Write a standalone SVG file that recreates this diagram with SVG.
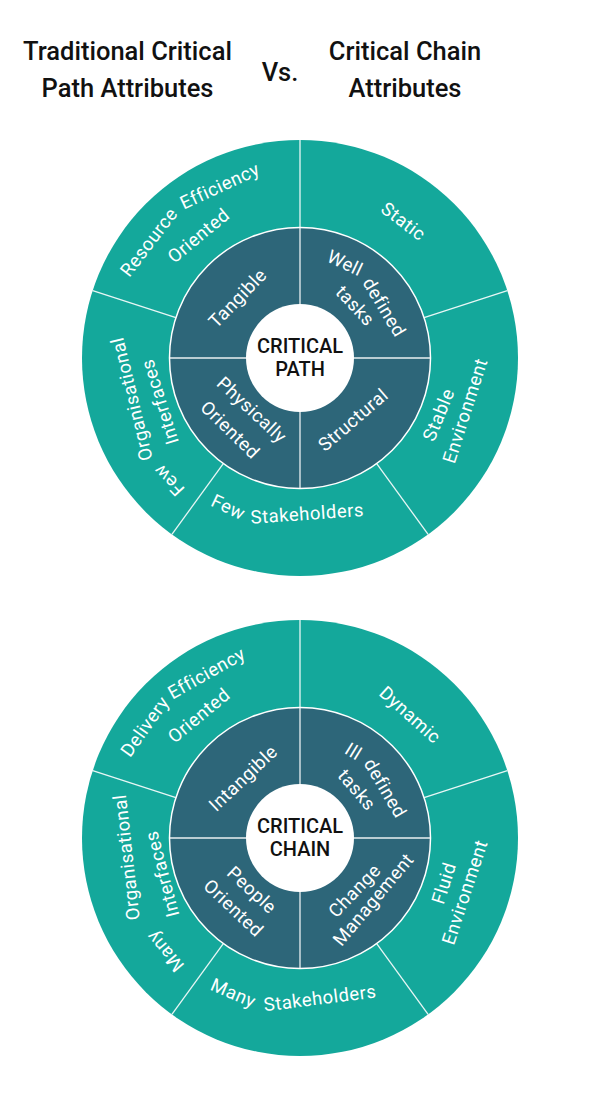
<svg xmlns="http://www.w3.org/2000/svg" width="600" height="1100" viewBox="0 0 600 1100">
<style>
.title{font-family:Roboto,"Liberation Sans",sans-serif;font-weight:500;font-size:25.5px;fill:#111;text-anchor:middle}
.outer{fill:#14A89B}
.inner{fill:#2D6679;stroke:#fff;stroke-width:1.5}
.hub{fill:#fff}
.div{stroke:#fff;stroke-width:1.3;stroke-opacity:.9}
.lbl{font-family:Roboto,"Liberation Sans",sans-serif;font-weight:400;font-size:18.5px;letter-spacing:0.5px;fill:#fff;text-anchor:middle}
.hubt{font-family:Roboto,"Liberation Sans",sans-serif;font-weight:500;font-size:20px;fill:#111;text-anchor:middle}
</style>
<rect width="600" height="1100" fill="#fff"/>
<g id="titles">
<text class="title" x="127.5" y="60">Traditional Critical</text>
<text class="title" x="127.5" y="97">Path Attributes</text>
<text class="title" x="280" y="81">Vs.</text>
<text class="title" x="405" y="60">Critical Chain</text>
<text class="title" x="405" y="97">Attributes</text>
</g>

<!-- ===== Critical Path wheel ===== -->
<g id="cp-outer-ring"><circle class="outer" cx="300" cy="358" r="218"/></g>
<g id="cp-inner-ring"><circle class="inner" cx="300" cy="358" r="130.5"/></g>
<g id="cp-connectors">
<line class="div" x1="300" y1="227.5" x2="300" y2="140"/>
<line class="div" x1="424.1" y1="317.7" x2="507.3" y2="290.6"/>
<line class="div" x1="376.7" y1="463.6" x2="428.1" y2="534.4"/>
<line class="div" x1="223.3" y1="463.6" x2="171.9" y2="534.4"/>
<line class="div" x1="175.9" y1="317.7" x2="92.7" y2="290.6"/>
<line class="div" x1="169.5" y1="358" x2="430.5" y2="358"/>
<line class="div" x1="300" y1="227.5" x2="300" y2="488.5"/>
</g>
<g id="cp-resource">
<text class="lbl" transform="translate(149,242.2) rotate(-52.5)" dy="0.33em">Resource</text>
<text class="lbl" transform="translate(219.9,186.2) rotate(-25)" dy="0.33em">Efficiency</text>
<text class="lbl" transform="translate(198.7,235.8) rotate(-39.7)" dy="0.33em">Oriented</text>
</g>
<g id="cp-static"><text class="lbl" transform="translate(403.3,221.5) rotate(37.1)" dy="0.33em">Static</text></g>
<g id="cp-stable">
<text class="lbl" transform="translate(438.8,414.8) rotate(-67.75)" dy="0.33em">Stable</text>
<text class="lbl" transform="translate(465.3,410.7) rotate(-72.3)" dy="0.33em">Environment</text>
</g>
<g id="cp-stakeholders">
<text class="lbl" transform="translate(228.3,507.3) rotate(25.6)" dy="0.33em">Few</text>
<text class="lbl" transform="translate(307.2,513.8) rotate(-4)" dy="0.33em">Stakeholders</text>
</g>
<g id="cp-interfaces">
<text class="lbl" transform="translate(169.1,480.1) rotate(-133)" dy="0.33em">Few</text>
<text class="lbl" transform="translate(131.9,399) rotate(-103.7)" dy="0.33em">Organisational</text>
<text class="lbl" transform="translate(160,401.7) rotate(-107.3)" dy="0.33em">Interfaces</text>
</g>
<g id="cp-tangible"><text class="lbl" transform="translate(237.8,298.3) rotate(-46)" dy="0.33em">Tangible</text></g>
<g id="cp-tasks">
<text class="lbl" transform="translate(345,263.3) rotate(25.4)" dy="0.33em">Well</text>
<text class="lbl" transform="translate(384,307.3) rotate(58.9)" dy="0.33em">defined</text>
<text class="lbl" transform="translate(355,306) rotate(46.6)" dy="0.33em">tasks</text>
</g>
<g id="cp-structural"><text class="lbl" transform="translate(353.3,420) rotate(-40.7)" dy="0.33em">Structural</text></g>
<g id="cp-physical">
<text class="lbl" transform="translate(251.7,410) rotate(42.9)" dy="0.33em">Physically</text>
<text class="lbl" transform="translate(230,430) rotate(44.2)" dy="0.33em">Oriented</text>
</g>
<g id="cp-hub">
<circle class="hub" cx="300" cy="358" r="54"/>
<text class="hubt" x="300" y="353.3">CRITICAL</text>
<text class="hubt" x="300" y="376">PATH</text>
</g>

<!-- ===== Critical Chain wheel ===== -->
<g id="cc-outer-ring"><circle class="outer" cx="300" cy="838" r="218"/></g>
<g id="cc-inner-ring"><circle class="inner" cx="300" cy="838" r="130.5"/></g>
<g id="cc-connectors">
<line class="div" x1="300" y1="707.5" x2="300" y2="620"/>
<line class="div" x1="424.1" y1="797.7" x2="507.3" y2="770.6"/>
<line class="div" x1="376.7" y1="943.6" x2="428.1" y2="1014.4"/>
<line class="div" x1="223.3" y1="943.6" x2="171.9" y2="1014.4"/>
<line class="div" x1="175.9" y1="797.7" x2="92.7" y2="770.6"/>
<line class="div" x1="169.5" y1="838" x2="430.5" y2="838"/>
<line class="div" x1="300" y1="707.5" x2="300" y2="968.5"/>
</g>
<g id="cc-delivery">
<text class="lbl" transform="translate(145,726.7) rotate(-54.3)" dy="0.33em">Delivery</text>
<text class="lbl" transform="translate(206.7,673.3) rotate(-29.5)" dy="0.33em">Efficiency</text>
<text class="lbl" transform="translate(199,715.7) rotate(-39.6)" dy="0.33em">Oriented</text>
</g>
<g id="cc-dynamic"><text class="lbl" transform="translate(410,715) rotate(41.8)" dy="0.33em">Dynamic</text></g>
<g id="cc-fluid">
<text class="lbl" transform="translate(444,883.3) rotate(-72.5)" dy="0.33em">Fluid</text>
<text class="lbl" transform="translate(465,892.3) rotate(-71.8)" dy="0.33em">Environment</text>
</g>
<g id="cc-stakeholders">
<text class="lbl" transform="translate(233.3,993.3) rotate(23.2)" dy="0.33em">Many</text>
<text class="lbl" transform="translate(320,998.3) rotate(-7.1)" dy="0.33em">Stakeholders</text>
</g>
<g id="cc-interfaces">
<text class="lbl" transform="translate(165.2,951.1) rotate(-130)" dy="0.33em">Many</text>
<text class="lbl" transform="translate(126.7,857.3) rotate(-96.4)" dy="0.33em">Organisational</text>
<text class="lbl" transform="translate(162.3,874) rotate(-104.7)" dy="0.33em">Interfaces</text>
</g>
<g id="cc-intangible"><text class="lbl" transform="translate(243.3,778.3) rotate(-43.5)" dy="0.33em">Intangible</text></g>
<g id="cc-tasks">
<text class="lbl" transform="translate(353.3,751.7) rotate(31.7)" dy="0.33em">Ill</text>
<text class="lbl" transform="translate(385,788.3) rotate(59.7)" dy="0.33em">defined</text>
<text class="lbl" transform="translate(356.7,790) rotate(49.7)" dy="0.33em">tasks</text>
</g>
<g id="cc-change">
<text class="lbl" transform="translate(354.7,890.8) rotate(-46)" dy="0.33em">Change</text>
<text class="lbl" transform="translate(373.5,899.7) rotate(-50)" dy="0.33em">Management</text>
</g>
<g id="cc-people">
<text class="lbl" transform="translate(251.7,890) rotate(42.9)" dy="0.33em">People</text>
<text class="lbl" transform="translate(233.3,908.3) rotate(43.5)" dy="0.33em">Oriented</text>
</g>
<g id="cc-hub">
<circle class="hub" cx="300" cy="838" r="54"/>
<text class="hubt" x="300" y="833.3">CRITICAL</text>
<text class="hubt" x="300" y="856">CHAIN</text>
</g>
</svg>
